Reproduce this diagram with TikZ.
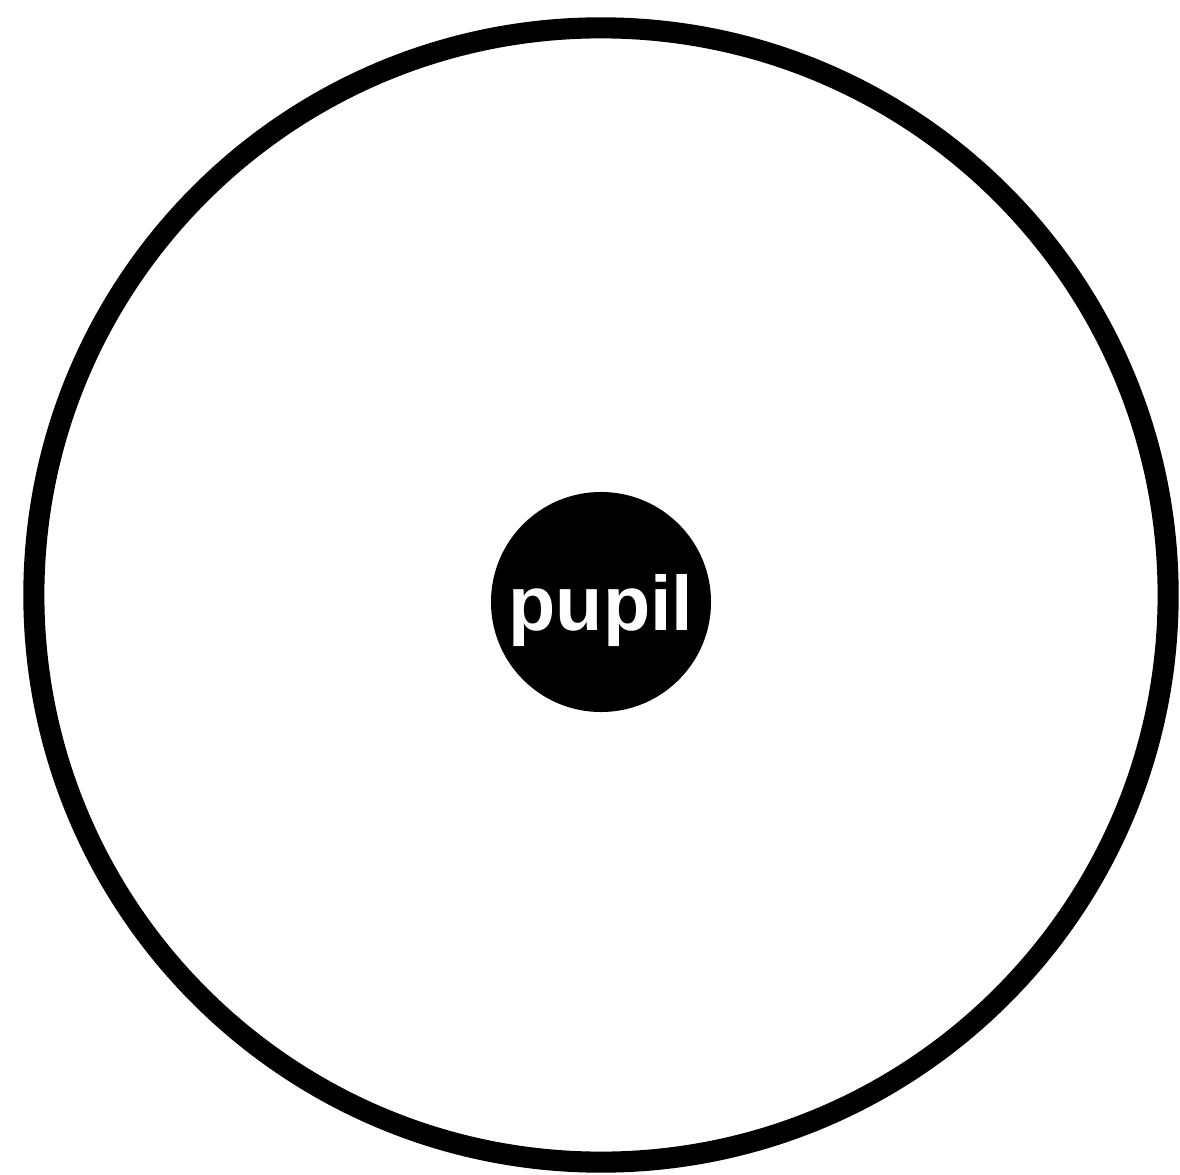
\documentclass[tikz,border=0pt]{standalone}
\usepackage{fontspec}
\setsansfont{Liberation Sans}
\usetikzlibrary{positioning}

\begin{document}
\begin{tikzpicture}[
  x=0.025cm, y=-0.025cm,
  iris/.style={circle, draw=black, line width=15pt, inner sep=0pt, minimum size=28.35cm},
  pupil/.style={circle, fill=black, text=white, inner sep=0pt, minimum size=5.5cm, text depth=0pt, font=\sffamily\bfseries\fontsize{55}{55}\selectfont}
]

  \useasboundingbox (0,0) rectangle (1180,1175);

  \node[iris] (eye) at (601,595) {};
  \node[pupil] (pupil) at (601,602) {pupil};

\end{tikzpicture}
\end{document}
